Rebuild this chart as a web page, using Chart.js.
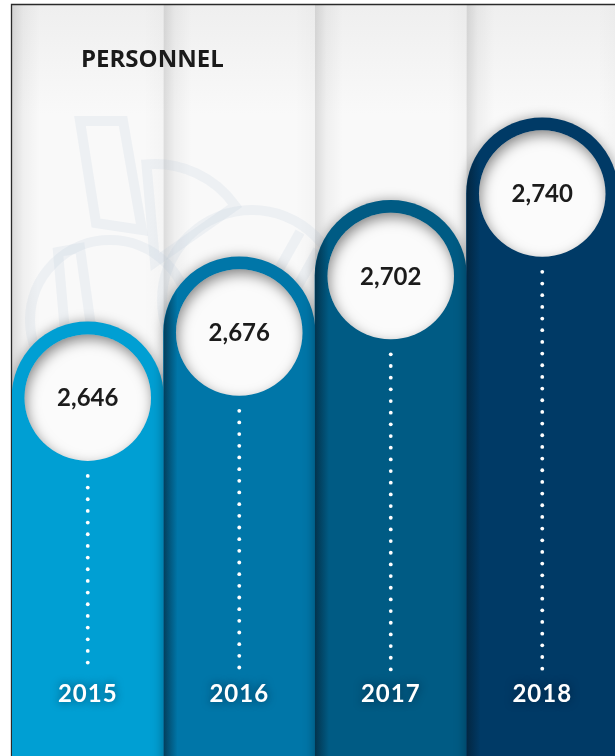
<!DOCTYPE html>
<html>
<head>
<meta charset="utf-8">
<script src="https://cdn.jsdelivr.net/npm/chart.js@4"></script>
<style>
  html, body { margin: 0; padding: 0; background: #fff; overflow: hidden; }
  #wrap { width: 625px; height: 756px; }
</style>
</head>
<body>
<div id="wrap"><canvas id="personnel" width="625" height="756"></canvas></div>
<script>
const years = ['2015', '2016', '2017', '2018'];
const headcount = [2646, 2676, 2702, 2740];
const barColors = ['#009fd3', '#0076a8', '#005b84', '#003a66'];
const chartTitle = 'PERSONNEL';

const fmt = (v) => v.toLocaleString('en-US');

// light paper columns behind the bars, plus the frame line
const backdrop = {
  id: 'backdrop',
  beforeDraw(chart) {
    const { ctx, chartArea, scales } = chart;
    const x = scales.x;
    const step = x.width / years.length;
    const h = chartArea.bottom - chartArea.top;
    ctx.save();
    ctx.fillStyle = '#fff';
    ctx.fillRect(0, 0, chart.width, chart.height);
    years.forEach((_, i) => {
      const x0 = chartArea.left + i * step;
      ctx.fillStyle = '#f9f9f9';
      ctx.fillRect(x0, chartArea.top, step, h);

      let g = ctx.createLinearGradient(0, chartArea.top, 0, chartArea.top + 110);
      g.addColorStop(0, 'rgba(232,232,232,0.6)');
      g.addColorStop(1, 'rgba(232,232,232,0)');
      ctx.fillStyle = g;
      ctx.fillRect(x0, chartArea.top, step, 110);

      g = ctx.createLinearGradient(x0, 0, x0 + 28, 0);
      g.addColorStop(0, 'rgba(0,0,0,0.12)');
      g.addColorStop(0.4, 'rgba(0,0,0,0.04)');
      g.addColorStop(1, 'rgba(0,0,0,0)');
      ctx.fillStyle = g;
      ctx.fillRect(x0, chartArea.top, 28, h);

      g = ctx.createLinearGradient(x0 + step - 20, 0, x0 + step, 0);
      g.addColorStop(0, 'rgba(0,0,0,0)');
      g.addColorStop(1, 'rgba(0,0,0,0.02)');
      ctx.fillStyle = g;
      ctx.fillRect(x0 + step - 20, chartArea.top, 20, h);
    });

    // faint logo watermark
    ctx.strokeStyle = 'rgba(170,192,210,0.14)';
    ctx.lineWidth = 10;
    ctx.beginPath();
    ctx.moveTo(80, 121); ctx.lineTo(123, 121); ctx.lineTo(142, 230); ctx.lineTo(96, 223); ctx.closePath();
    ctx.stroke();
    ctx.beginPath();
    ctx.moveTo(155, 262);
    ctx.arc(155, 262, 98, -95 * Math.PI / 180, -35 * Math.PI / 180);
    ctx.closePath();
    ctx.stroke();
    ctx.beginPath();
    ctx.arc(110, 320, 80, 0, Math.PI * 2);
    ctx.stroke();
    ctx.beginPath();
    ctx.moveTo(58, 252); ctx.lineTo(80, 248); ctx.lineTo(96, 362); ctx.lineTo(68, 366); ctx.closePath();
    ctx.stroke();
    ctx.beginPath();
    ctx.arc(252, 300, 90, 0, Math.PI * 2);
    ctx.stroke();
    ctx.beginPath();
    ctx.moveTo(300, 232); ctx.lineTo(238, 342);
    ctx.moveTo(318, 250); ctx.lineTo(262, 350);
    ctx.stroke();

    ctx.strokeStyle = '#2a2a2a';
    ctx.lineWidth = 1.3;
    ctx.beginPath();
    ctx.moveTo(chartArea.left - 0.5, chart.height);
    ctx.lineTo(chartArea.left - 0.5, chartArea.top - 0.5);
    ctx.lineTo(chart.width, chartArea.top - 0.5);
    ctx.stroke();
    ctx.restore();
  },
  beforeDatasetsDraw(chart) {
    const ctx = chart.ctx;
    ctx.save();
    ctx.shadowColor = 'rgba(0,0,0,0.35)';
    ctx.shadowBlur = 12;
  },
  afterDatasetsDraw(chart) {
    const ctx = chart.ctx;
    ctx.restore();
    const meta = chart.getDatasetMeta(0);
    const bottom = chart.chartArea.bottom;

    meta.data.forEach((bar, i) => {
      const half = bar.width / 2;
      const left = bar.x - half;
      const cx = bar.x;
      const cy = bar.y + half;
      const r = half - 12.5;

      // shade where the neighbouring column overlaps
      if (i > 0) {
        ctx.save();
        const g = ctx.createLinearGradient(left, 0, left + 14, 0);
        g.addColorStop(0, 'rgba(5,25,40,0.6)');
        g.addColorStop(1, 'rgba(5,25,40,0)');
        ctx.fillStyle = g;
        ctx.beginPath();
        ctx.rect(left, bar.y, 14, bottom - bar.y);
        ctx.clip();
        ctx.beginPath();
        ctx.arc(cx, cy, half, Math.PI, Math.PI * 1.5);
        ctx.lineTo(left + 14, bar.y);
        ctx.lineTo(left + 14, bottom);
        ctx.lineTo(left, bottom);
        ctx.closePath();
        ctx.fill();
        ctx.restore();
      }

      // white disc with an inner shadow
      ctx.save();
      ctx.beginPath();
      ctx.arc(cx, cy, r, 0, Math.PI * 2);
      ctx.fillStyle = '#fbfbfb';
      ctx.fill();
      ctx.clip();
      ctx.beginPath();
      ctx.arc(cx, cy, r + 16, 0, Math.PI * 2);
      ctx.lineWidth = 30;
      ctx.strokeStyle = '#000';
      ctx.shadowColor = 'rgba(0,0,0,0.5)';
      ctx.shadowBlur = 14;
      ctx.shadowOffsetX = 2;
      ctx.shadowOffsetY = 5;
      ctx.stroke();
      ctx.restore();

      ctx.save();
      ctx.fillStyle = '#1b1b1b';
      ctx.font = 'bold 24px Lato';
      ctx.textAlign = 'center';
      ctx.textBaseline = 'middle';
      ctx.fillText(fmt(headcount[i]), cx, cy + 1);
      ctx.restore();

      // dotted leader down to the year
      ctx.save();
      ctx.fillStyle = '#fff';
      for (let y = cy + r + 15; y <= 670; y += 11.67) {
        ctx.beginPath();
        ctx.arc(cx, y, 1.9, 0, Math.PI * 2);
        ctx.fill();
      }
      ctx.restore();
    });

    // year labels inside the bars
    const xs = chart.scales.x;
    ctx.save();
    ctx.font = 'bold 24px Lato';
    ctx.letterSpacing = '1px';
    ctx.textAlign = 'center';
    ctx.textBaseline = 'middle';
    ctx.fillStyle = '#fff';
    ctx.shadowColor = 'rgba(0,20,40,0.6)';
    ctx.shadowBlur = 9;
    years.forEach((yr, i) => {
      ctx.fillText(yr, xs.getPixelForValue(i), 694);
    });
    ctx.restore();

    ctx.save();
    ctx.font = 'bold 24px "Open Sans"';
    ctx.fillStyle = '#1a1a1a';
    ctx.textBaseline = 'alphabetic';
    ctx.fillText(chartTitle, 81, 67);
    ctx.restore();
  }
};

new Chart(document.getElementById('personnel'), {
  type: 'bar',
  data: {
    labels: years,
    datasets: [{
      label: chartTitle,
      data: headcount,
      backgroundColor: barColors,
      borderWidth: 0,
      borderSkipped: 'bottom',
      borderRadius: { topLeft: 76, topRight: 76, bottomLeft: 0, bottomRight: 0 },
      barPercentage: 1,
      categoryPercentage: 1,
    }],
  },
  options: {
    responsive: false,
    animation: false,
    devicePixelRatio: 1,
    layout: { padding: { left: 12, right: 7, top: 5, bottom: 0 } },
    scales: {
      x: { display: false },
      y: { display: false, min: 2446, max: 2792 },
    },
    plugins: {
      legend: { display: false },
      tooltip: { enabled: false },
      title: { display: false },
    },
  },
  plugins: [backdrop],
});
</script>
</body>
</html>
